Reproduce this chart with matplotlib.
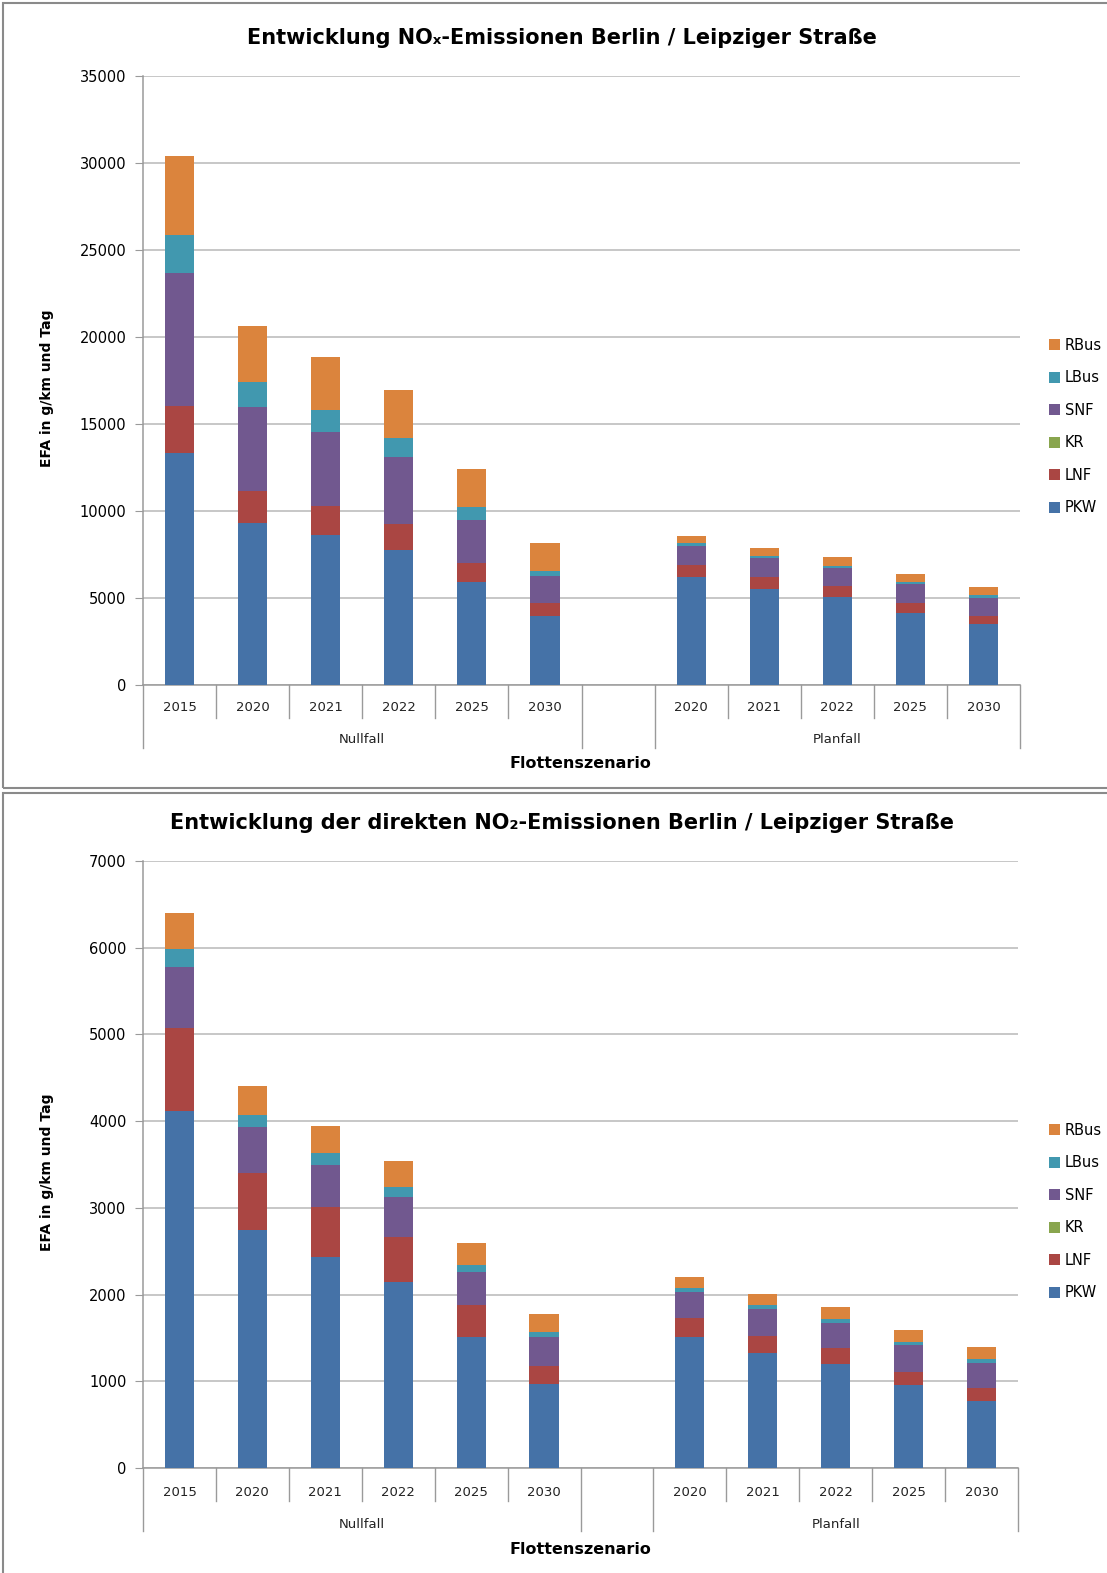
import matplotlib
matplotlib.use("Agg")
import matplotlib.pyplot as plt
import numpy as np
from matplotlib.patches import Patch, Rectangle
from matplotlib.lines import Line2D

# ---- data ---------------------------------------------------------------
years = ["2015", "2020", "2021", "2022", "2025", "2030", "",
         "2020", "2021", "2022", "2025", "2030"]
groups = ["Nullfall", "Planfall"]
series = ["PKW", "LNF", "KR", "SNF", "LBus", "RBus"]

# NOx (g/km und Tag), Nullfall 2015..2030, gap, Planfall 2020..2030
nox_pkw = [13330, 9300, 8640, 7760, 5900, 3990, 0, 6200, 5530, 5060, 4140, 3490]
nox_lnf = [2680, 1860, 1660, 1515, 1105, 740, 0, 725, 650, 630, 570, 500]
nox_kr = [0, 0, 0, 0, 0, 0, 0, 0, 0, 0, 0, 0]
nox_snf = [7640, 4810, 4260, 3810, 2500, 1515, 0, 1070, 1125, 1050, 1070, 1030]
nox_lbus = [2190, 1430, 1270, 1085, 735, 310, 0, 150, 115, 115, 135, 135]
nox_rbus = [4560, 3240, 3030, 2785, 2170, 1580, 0, 440, 480, 495, 460, 480]

# direct NO2
no2_pkw = [4115, 2750, 2430, 2145, 1505, 963, 0, 1510, 1325, 1195, 962, 774]
no2_lnf = [955, 650, 580, 515, 375, 217, 0, 218, 200, 184, 150, 146]
no2_kr = [0, 0, 0, 0, 0, 0, 0, 0, 0, 0, 0, 0]
no2_snf = [710, 535, 490, 470, 380, 328, 0, 299, 303, 295, 307, 295]
no2_lbus = [205, 140, 130, 115, 85, 56, 0, 46, 46, 46, 34, 46]
no2_rbus = [410, 325, 310, 300, 255, 213, 0, 126, 130, 131, 138, 130]

colors = ["#4572A7", "#AA4643", "#89A54E", "#71588F", "#4198AF", "#DB843D"]

W, H = 1107, 1573
GRAY = "#9a9a9a"
FONT = ["DejaVu Sans"]


def fx(px):
    return px / W


def fy(py):
    return 1 - py / H


def draw_panel(fig, box, ylim, ystep, data, title, legend_top, dy):
    l, t, r, b = box
    ax = fig.add_axes([fx(l), fy(b), fx(r - l), (b - t) / H])
    x = np.arange(len(years))
    bottom = np.zeros(len(years))
    for vals, c in zip(data, colors):
        vals = np.array(vals, dtype=float)
        ax.bar(x, vals, 0.4, bottom=bottom, color=c, zorder=3, linewidth=0)
        bottom += vals
    ax.set_xlim(-0.5, len(years) - 0.5)
    ax.set_ylim(0, ylim)
    ax.set_yticks(np.arange(0, ylim + 1, ystep))
    ax.yaxis.grid(True, color="#b8b8b8", linewidth=1.1, zorder=0)
    ax.set_xticks([])
    for s in ["top", "right"]:
        ax.spines[s].set_visible(False)
    for s in ["left", "bottom"]:
        ax.spines[s].set_color(GRAY)
        ax.spines[s].set_linewidth(1.1)
    ax.tick_params(axis="y", length=6, color=GRAY, labelsize=10.5, pad=6)

    # category axis: year labels, dividers, group labels
    slot = (r - l) / len(years)
    for i, yr in enumerate(years):
        if yr:
            fig.text(fx(l + (i + 0.5) * slot), fy(b + 19 + dy), yr, ha="center",
                     va="center", fontsize=9.5, family=FONT, color="#222222")
    for i in range(len(years) + 1):
        xp = l + i * slot
        deep = i in (0, 6, 7, len(years))
        end = b + (63 if deep else 33)
        fig.add_artist(Line2D([fx(xp), fx(xp)], [fy(b), fy(end)],
                              color=GRAY, linewidth=1.0))
    fig.text(fx(l + 3 * slot), fy(b + 51 + dy), groups[0], ha="center",
             va="center", fontsize=9.5, family=FONT, color="#222222")
    fig.text(fx(l + 9.5 * slot), fy(b + 51 + dy), groups[1], ha="center",
             va="center", fontsize=9.5, family=FONT, color="#222222")
    fig.text(fx(580), fy(b + 75 + dy), "Flottenszenario", ha="center",
             va="center", fontsize=11.5, fontweight="bold", family=FONT)
    fig.text(fx(47), fy((t + b) / 2 + 8), "EFA in g/km und Tag", rotation=90,
             ha="center", va="center", fontsize=10, fontweight="bold",
             family=FONT)
    fig.text(fx(562), fy(t - 38), title, ha="center", va="center",
             fontsize=15, fontweight="bold", family=FONT)

    handles = [Patch(facecolor=c, edgecolor="none") for c in colors][::-1]
    fig.legend(handles, series[::-1], loc="upper left",
               bbox_to_anchor=(fx(1043), fy(legend_top)), frameon=False,
               handlelength=0.75, handleheight=0.75,
               handletextpad=0.35, labelspacing=1.2, borderaxespad=0,
               prop={"family": FONT, "size": 10.5})
    return ax


fig = plt.figure(figsize=(W / 100, H / 100), dpi=100)

# panel frames
fig.add_artist(Rectangle((fx(3), fy(788)), fx(1110), (788 - 3) / H,
                         fill=False, edgecolor="#8a8a8a", linewidth=1.5))
fig.add_artist(Rectangle((fx(3), fy(1580)), fx(1110), (1580 - 793) / H,
                         fill=False, edgecolor="#8a8a8a", linewidth=1.5))

draw_panel(fig, (143, 76, 1020, 685), 35000, 5000,
           [nox_pkw, nox_lnf, nox_kr, nox_snf, nox_lbus, nox_rbus],
           "Entwicklung NOₓ-Emissionen Berlin / Leipziger Straße", 332, 4)
draw_panel(fig, (143, 861, 1018, 1468), 7000, 1000,
           [no2_pkw, no2_lnf, no2_kr, no2_snf, no2_lbus, no2_rbus],
           "Entwicklung der direkten NO₂-Emissionen Berlin / Leipziger Straße",
           1117, 6)

fig.savefig("out.png", dpi=100)
